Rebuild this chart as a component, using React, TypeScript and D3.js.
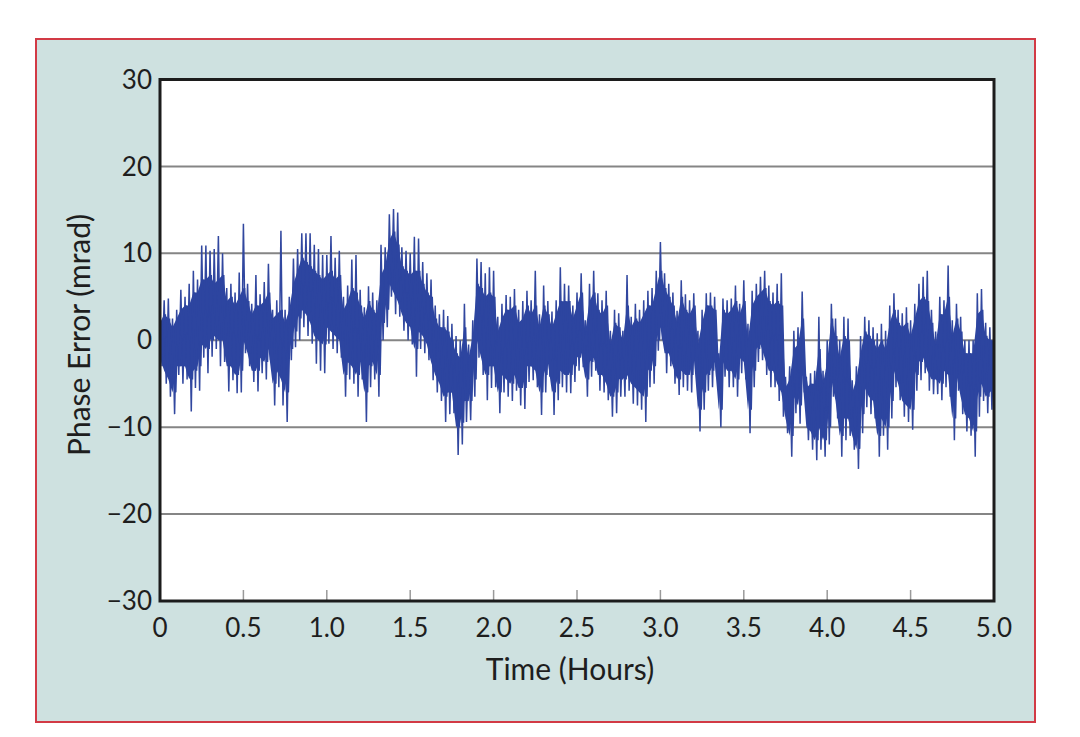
import React from "react";
import * as d3 from "d3";

// Time bins (hours), one every 0.025 h from 0 to 5.0
const binStep = 0.025;
const times: number[] = d3.range(0, 201).map((i) => +(i * binStep).toFixed(4));

// Outer envelope (spike tips) of the phase error in each bin (mrad)
const upperEnvelope: number[] = [
  3, 4.6, 4.8, 2.5, 3.5, 5.8, 5, 6.5, 8, 7,
  10.9, 10.9, 10.3, 10.5, 12, 10, 6, 6.5, 5.5, 7.8,
  13.4, 6.5, 4.2, 7.5, 5.3, 6.7, 8.8, 3.5, 4.6, 12.6,
  3.5, 5, 9.4, 10.5, 12.3, 12.3, 12.3, 11, 10.5, 9.8,
  9.8, 12, 9.5, 10.3, 5, 6.3, 9.3, 9.8, 5.8, 3.8,
  6.2, 5.5, 4.6, 11, 10.7, 14.5, 15.1, 14.7, 10.7, 10.3,
  10, 11.9, 11.7, 9, 7.7, 7, 4, 3, 3.5, 2.8,
  1.9, 0.5, 0, 4.2, -0.5, 2.3, 9.4, 9, 7.7, 8.4,
  8, 2.7, 4.2, 5.2, 5, 5.9, 3.5, 4.5, 5.7, 4.6,
  8, 3, 6.3, 4.5, 3.3, 4.6, 8.4, 6.5, 6.3, 4,
  5.5, 7.7, 2.3, 6.5, 8, 5.4, 4.6, 5.7, 1.1, 3.5,
  3.1, 1.1, 7.5, 2.7, 4.2, 3.5, 4.6, 5.7, 6, 8,
  11.3, 7.7, 6.5, 5.5, 3.4, 6.9, 5.3, 4.6, 5.4, 1.1,
  3.5, 5.4, 5.5, 5, -1.5, 4.8, 4.6, 4.8, 6.3, 4.2,
  6.9, 1.9, 5.7, 6.5, 7.3, 8, 6.3, 5.5, 6.5, 7.7,
  -4.2, -3, 1.1, 1.5, 5.6, -4.2, -3.8, -3.5, 2.7, -3.5,
  0, 4.2, 2.5, 0, 2.7, 2.5, -4.6, -3, 0.5, 2.7,
  2.3, 1.5, 0.8, 1.9, 1.1, 4, 5.4, 3.5, 3.1, 3.8,
  2.3, 4.2, 6.5, 7.3, 8, 3.5, 1, 5, 4.6, 8.6,
  2.3, 4.2, 2.7, 0, 0, 0, 5.4, 5.9, 2, 1.5,
  1.5,
];

const lowerEnvelope: number[] = [
  -3, -5, -6.5, -8.5, -4, -5, -4.5, -8.2, -5.5, -5.8,
  -2, -3.8, -1.9, -1, -3, -2.5, -5.9, -4.6, -6.1, -6,
  -1.5, -3, -4.8, -5.9, -3.8, -4.5, -2.3, -7.5, -5.4, -7.5,
  -9.4, -2.3, -0.8, 0, 1.5, 0.5, -0.4, -2.7, -3.5, -3.8,
  -0.4, -1, -1.5, -2, -6.5, -4.5, -5, -6.5, -4.5, -9.4,
  -5.4, -4.5, -6.5, 0, 1.5, 5, 3, 2.7, 1.1, 0,
  -0.5, -4.2, -1, -1.5, -2.3, -4.6, -6, -7, -9.4, -8.5,
  -8.4, -13.2, -12, -9.4, -9.2, -6.5, -2, -4, -6.9, -5.5,
  -5.4, -8.4, -6, -6.5, -7, -5.8, -7.5, -7.9, -4.8, -4.6,
  -5.4, -8.6, -6, -4.2, -8.6, -6.9, -5.4, -6, -6.1, -4.8,
  -3.5, -3.1, -6.5, -4.2, -3.5, -5.8, -6, -6.9, -8.8, -8.4,
  -6.5, -6.5, -5.8, -7.3, -7.5, -8, -9.4, -5.4, -5, -1.2,
  0, -3.8, -3, -5, -6.3, -5.4, -5.8, -6, -3.8, -10.5,
  -8, -5.8, -5.4, -4.2, -10, -4.2, -5.4, -5.4, -6.5, -3.8,
  -4.5, -10.7, -5.4, -2.5, -2.3, -4, -5.4, -5.4, -7, -8.8,
  -10.7, -13.4, -8.4, -9.6, -6, -11.5, -12.6, -13.8, -12.6, -13.4,
  -12, -6.5, -9, -13.4, -11.5, -11, -12.6, -14.8, -10.7, -7.7,
  -8.5, -9, -13.4, -11, -12.6, -9, -5.4, -6.9, -8.8, -9.4,
  -10.3, -5.8, -4.6, -3.8, -5.8, -6.2, -6.2, -6.9, -5.4, -6.5,
  -11.5, -5.8, -8.5, -10.5, -11, -13.4, -8.8, -7, -8.4, -8,
  -7.5,
];

// Dense core band of the trace in each bin (mrad)
const coreUpper: number[] = [
  2, 3, 2.5, 1.5, 2.5, 3.5, 4, 4, 5.5, 5.5,
  7, 7, 7.5, 6.5, 7, 7.5, 4.5, 5, 4, 5,
  6, 4.5, 3, 4, 4, 4.5, 5.5, 2.5, 3, 3.5,
  2, 3.5, 6.5, 8, 9.5, 9, 8.5, 8, 7.5, 7,
  7.5, 8, 7, 7.5, 3.5, 4.5, 6, 5.5, 4, 2.5,
  4.5, 3.5, 3, 7.5, 8.5, 11.5, 12.5, 11, 8.5, 8,
  7.5, 8, 8, 6.5, 5.5, 5, 2.5, 1.5, 1.5, 1,
  0, -1.5, -2, 1.5, -2, 0.5, 6.5, 6, 5, 5.5,
  5, 1, 2.5, 3.5, 3.5, 4, 2, 2.5, 4, 3,
  4, 1.5, 4, 3, 1.5, 3, 4.5, 4.5, 4.5, 2.5,
  4, 5.5, 1, 4.5, 5.5, 3.5, 3, 4, -0.5, 2,
  1.5, 0, 4, 1.5, 2.5, 2, 3, 4, 4, 6,
  8, 6, 5, 4, 2, 5, 3.5, 3, 4, -0.5,
  2, 4, 4, 3.5, -2.5, 3.5, 3, 3.5, 4.5, 3,
  4.5, 0, 4, 5, 5.5, 6, 4.5, 4, 4.5, 4,
  -5.5, -4.5, -1, -0.5, 2.5, -5.5, -5, -5, -1, -5,
  -2.5, 2.5, 0.5, -2, 0.5, 0, -6, -4.5, -1.5, 1,
  0.5, 0, -1, 0, -1, 2, 3.5, 2, 1.5, 2,
  0.5, 2.5, 4.5, 5, 4.5, 2, -0.5, 3, 3, 5,
  0.5, 2.5, 1, -1.5, -1.5, -1.5, 3, 3.5, 0.5, 0,
  0,
];

const coreLower: number[] = [
  -2, -3.5, -4.5, -6, -3, -3, -3, -4.5, -3.5, -3,
  -0.5, -1, 0, 0.5, 0, 0, -3, -3, -4, -3.5,
  0, -1.5, -3.5, -3.5, -2, -2.5, -1, -5, -3.5, -4.5,
  -6, -1, 1, 2.5, 3.5, 3, 2, 0.5, 0, -0.5,
  1.5, 1, 0.5, 0, -4, -2.5, -3, -4, -2.5, -6,
  -3, -2.5, -4, 2, 3.5, 6.5, 5.5, 4.5, 3, 2,
  1.5, -1, 1, 0.5, -0.5, -2.5, -4, -5, -6.5, -6,
  -6, -10, -9.5, -7, -7, -4.5, 0, -2, -4, -3,
  -3, -6, -4, -4.5, -5, -4, -5.5, -5.5, -3, -3,
  -3.5, -6, -4, -2.5, -6, -5, -3.5, -4, -4, -3,
  -2, -1.5, -4.5, -2.5, -2, -4, -4, -5, -6.5, -6,
  -4.5, -4.5, -4, -5, -5.5, -6, -6.5, -3.5, -3, 0,
  1.5, -1.5, -1.5, -3, -4.5, -3.5, -4, -4, -2, -8,
  -6, -4, -3.5, -2.5, -8, -2.5, -3.5, -3.5, -4.5, -2,
  -2.5, -8, -3.5, -1, -0.5, -2, -3.5, -3.5, -5, -6,
  -9, -11, -6.5, -7.5, -4, -10, -10.5, -11.5, -10, -11.5,
  -10, -4.5, -7, -11, -9, -9, -11, -12.5, -8.5, -5.5,
  -6.5, -7, -11, -9, -10, -7, -3.5, -5, -7, -7.5,
  -8, -4, -2.5, -2, -3.5, -4.5, -4.5, -5, -3.5, -4,
  -9, -4, -6.5, -8.5, -9, -10.5, -6.5, -5, -6.5, -6,
  -5.5,
];

const yTicks = [30, 20, 10, 0, -10, -20, -30];
const xTicks = [0, 0.5, 1.0, 1.5, 2.0, 2.5, 3.0, 3.5, 4.0, 4.5, 5.0];
const gridValues = [20, 10, 0, -10, -20];

const W = 1080;
const H = 737;
const plot = { left: 160, right: 994, top: 79.5, bottom: 601 };
const FONT = "Lato, 'Open Sans', sans-serif";

export default function App() {
  const x = d3.scaleLinear().domain([0, 5]).range([plot.left, plot.right]);
  const y = d3.scaleLinear().domain([-30, 30]).range([plot.bottom, plot.top]);

  const line = d3
    .line<[number, number]>()
    .x((d) => x(d[0]))
    .y((d) => y(d[1]));

  // Zigzag between the outer envelope tips in each bin
  const spikes: [number, number][] = [];
  times.forEach((t, i) => {
    spikes.push([t, upperEnvelope[i]]);
    spikes.push([Math.min(5, t + binStep / 2), lowerEnvelope[i]]);
  });

  // Zigzag inside the dense core, interleaved with the spike zigzag
  const corePts: [number, number][] = [];
  times.forEach((t, i) => {
    corePts.push([Math.min(5, t + binStep / 4), coreUpper[i]]);
    corePts.push([Math.min(5, t + (3 * binStep) / 4), coreLower[i]]);
  });

  // Solid core band
  const coreIdx = d3.range(times.length);
  const area = d3
    .area<number>()
    .x((i) => x(times[i]))
    .y0((i) => y(coreLower[i]))
    .y1((i) => y(coreUpper[i]));

  return (
    <svg
      width={W}
      height={H}
      style={{ position: "absolute", left: 0, top: 0, background: "#ffffff" }}
    >
      <rect x={36} y={39} width={999} height={683} fill="#cee1e0" stroke="#d23a45" strokeWidth={2} />
      <rect
        x={plot.left}
        y={plot.top}
        width={plot.right - plot.left}
        height={plot.bottom - plot.top}
        fill="#ffffff"
      />
      {gridValues.map((v) => (
        <line
          key={v}
          x1={plot.left}
          x2={plot.right}
          y1={y(v)}
          y2={y(v)}
          stroke="#858585"
          strokeWidth={2}
        />
      ))}
      {xTicks.slice(1, -1).map((v) => (
        <line
          key={v}
          x1={x(v)}
          x2={x(v)}
          y1={plot.bottom}
          y2={plot.bottom - 11}
          stroke="#9a9a9a"
          strokeWidth={1.5}
        />
      ))}
      <clipPath id="plotclip">
        <rect x={plot.left} y={plot.top} width={plot.right - plot.left} height={plot.bottom - plot.top} />
      </clipPath>
      <g clipPath="url(#plotclip)">
        <path
          d={line(spikes) || ""}
          fill="none"
          stroke="#31479f"
          strokeWidth={1.5}
        />
        <path d={area(coreIdx) || ""} fill="#2d45a0" />
        <path
          d={line(corePts) || ""}
          fill="none"
          stroke="#2d45a0"
          strokeWidth={1.8}
        />
      </g>
      <rect
        x={plot.left}
        y={plot.top}
        width={plot.right - plot.left}
        height={plot.bottom - plot.top}
        fill="none"
        stroke="#1c1c1c"
        strokeWidth={3}
      />
      {yTicks.map((v) => (
        <text
          key={v}
          x={152}
          y={y(v)}
          dy="0.35em"
          textAnchor="end"
          fontFamily={FONT}
          fontSize={26}
          fill="#1e1e1e"
        >
          {v < 0 ? "\u2212" + Math.abs(v) : String(v)}
        </text>
      ))}
      {xTicks.map((v) => (
        <text
          key={v}
          x={x(v)}
          y={637}
          textAnchor="middle"
          fontFamily={FONT}
          fontSize={26}
          fill="#1e1e1e"
        >
          {v === 0 ? "0" : v.toFixed(1)}
        </text>
      ))}
      <text
        x={570}
        y={680}
        textAnchor="middle"
        fontFamily={FONT}
        fontSize={30}
        fill="#1e1e1e"
      >
        Time (Hours)
      </text>
      <text
        transform={`translate(90, 335) rotate(-90)`}
        textAnchor="middle"
        fontFamily={FONT}
        fontSize={30}
        fill="#1e1e1e"
      >
        Phase Error (mrad)
      </text>
    </svg>
  );
}
